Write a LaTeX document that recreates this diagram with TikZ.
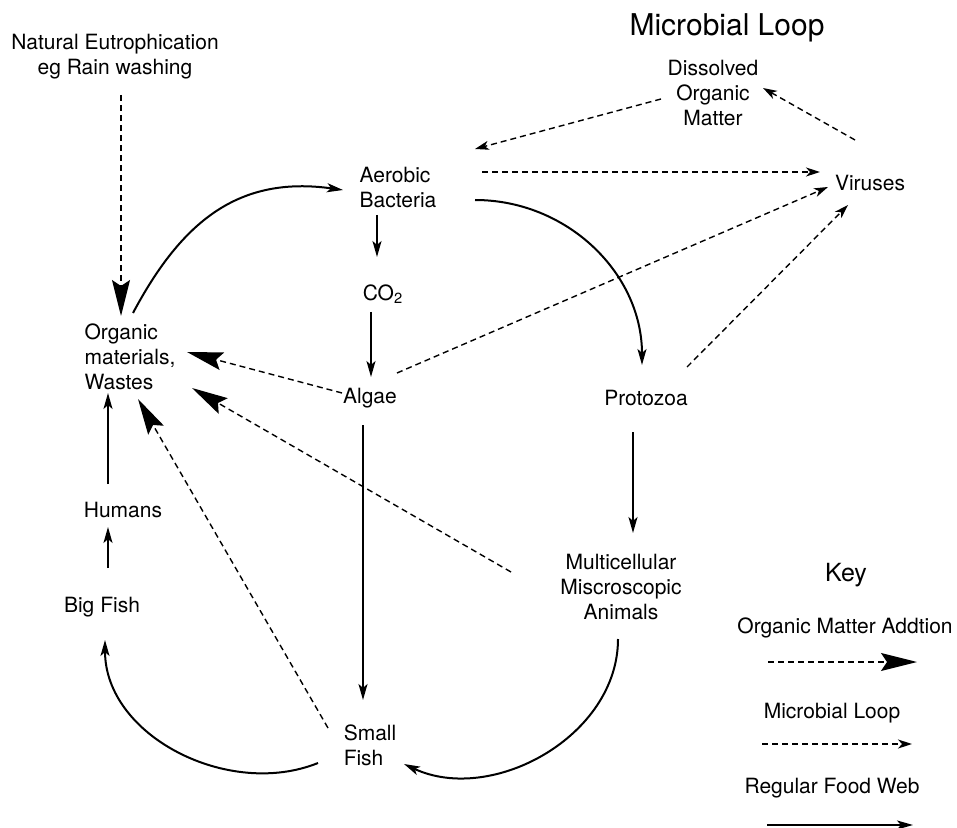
\documentclass[tikz,border=0pt]{standalone}
\usepackage{fontspec}
\setmainfont{TeX Gyre Heros}
\usetikzlibrary{arrows.meta}

\begin{document}
\begin{tikzpicture}[x=0.5pt,y=0.5pt,
    every node/.style={font=\fontsize{10.5}{12.5}\selectfont, inner sep=2pt},
    web/.style={line width=1pt,-{Stealth[length=8pt,width=4.5pt,inset=2pt]}},
    micro/.style={line width=0.7pt,dash pattern=on 3pt off 2pt,-{Stealth[length=7pt,width=4.5pt,inset=2pt]}},
    addition/.style={line width=0.7pt,dash pattern=on 3pt off 2pt,-{Stealth[length=18pt,width=9pt,inset=3pt]}}]
    \useasboundingbox (0,0) rectangle (957,-828);

    \node[font=\fontsize{15}{18}\selectfont] (title) at (727,-28) {Microbial Loop};
    \node[align=center] (eutro) at (115,-57) {Natural Eutrophication\\eg Rain washing};
    \node[align=center] (dom) at (713,-93) {Dissolved\\Organic\\Matter};
    \node (virus) at (870,-183) {Viruses};
    \node[align=left] (bact) at (398,-188) {Aerobic\\Bacteria};
    \node (co) at (383,-294) {CO\textsubscript{2}};
    \node (algae) at (370,-398) {Algae};
    \node (proto) at (646,-398) {Protozoa};
    \node[align=left] (orgw) at (130,-357) {Organic\\materials,\\Wastes};
    \node (humans) at (123,-510) {Humans};
    \node (bfish) at (102,-607) {Big Fish};
    \node[align=left] (sfish) at (370,-745) {Small\\Fish};
    \node[align=center] (multi) at (621,-587) {Multicellular\\Miscroscopic\\Animals};

    %%%%%%%%%%%%%%%%%%%%%%%%%%%%%%%%%%%%

    \draw[addition] ([shift={(6,-38)}]eutro.center) -- ([shift={(-9,41)}]orgw.center);
    \draw[addition] ([shift={(-28,5)}]algae.center) -- ([shift={(57,5)}]orgw.center);
    \draw[addition] ([shift={(-110,15)}]multi.center) -- ([shift={(62,-31)}]orgw.center);
    \draw[addition] ([shift={(-42,17)}]sfish.center) -- ([shift={(8,-42)}]orgw.center);

    \draw[micro] ([shift={(84,16)}]bact.center) -- ([shift={(-50,11)}]virus.center);
    \draw[micro] ([shift={(-52,-6)}]dom.center) -- ([shift={(77,39)}]bact.center);
    \draw[micro] ([shift={(-15,43)}]virus.center) -- ([shift={(50,5)}]dom.center);
    \draw[micro] ([shift={(27,25)}]algae.center) -- ([shift={(-42,-4)}]virus.center);
    \draw[micro] ([shift={(41,31)}]proto.center) -- ([shift={(-22,-22)}]virus.center);

    \draw[web] ([shift={(3,44)}]orgw.center) to[out=62,in=172,looseness=1.1] ([shift={(-55,-2)}]bact.center);
    \draw[web] ([shift={(-21,-27)}]bact.center) -- ([shift={(-6,37)}]co.center);
    \draw[web] ([shift={(-12,-18)}]co.center) -- ([shift={(1,21)}]algae.center);
    \draw[web] ([shift={(77,-12)}]bact.center) to[out=0,in=90] ([shift={(-4,33)}]proto.center);
    \draw[web] ([shift={(-13,-34)}]proto.center) -- ([shift={(12,54)}]multi.center);
    \draw[web] ([shift={(-7,-27)}]algae.center) -- ([shift={(-7,45)}]sfish.center);
    \draw[web] ([shift={(-3,-52)}]multi.center) to[out=-90,in=-25] ([shift={(34,-19)}]sfish.center);
    \draw[web] ([shift={(-52,-18)}]sfish.center) to[out=202,in=-90] ([shift={(3,-33)}]bfish.center);
    \draw[web] ([shift={(6,39)}]bfish.center) -- ([shift={(-15,-17)}]humans.center);
    \draw[web] ([shift={(-15,26)}]humans.center) -- ([shift={(-22,-36)}]orgw.center);

    %%%%%%%%%%%%%%%%%%%%%%%%%%%%%%%%%%%% key

    \node[font=\fontsize{12.5}{15}\selectfont] (key) at (846,-575) {Key};
    \node (kadd) at (845,-628) {Organic Matter Addtion};
    \node (kmicro) at (832,-713) {Microbial Loop};
    \node (kweb) at (832,-788) {Regular Food Web};

    \coordinate (ka) at (768,-662);
    \coordinate (kb) at (762,-744);
    \coordinate (kc) at (767,-825);
    \draw[addition] (ka) -- ++(149,0);
    \draw[micro] (kb) -- ++(150,0);
    \draw[web] (kc) -- ++(146,0);

\end{tikzpicture}
\end{document}
